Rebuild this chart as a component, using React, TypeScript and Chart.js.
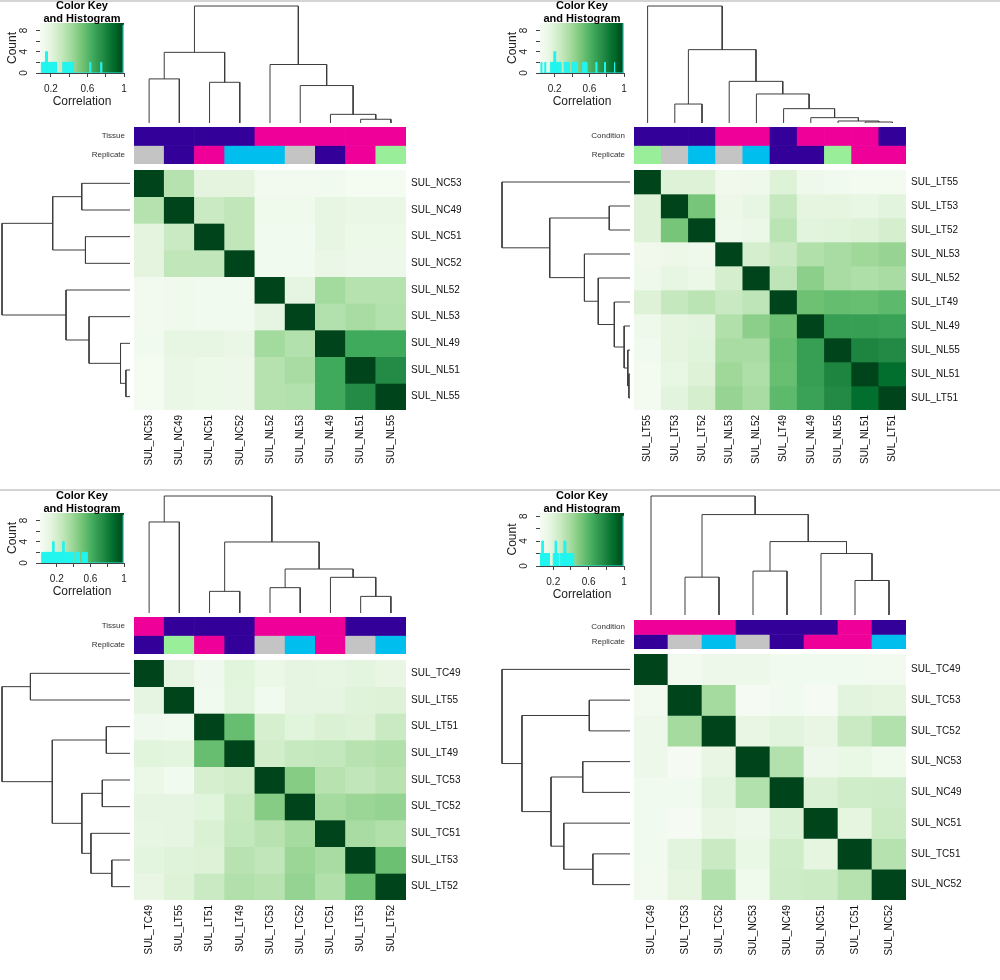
import React, { useEffect, useRef } from "react";
import { Chart, registerables } from "chart.js";
Chart.register(...registerables);

document.body.style.margin = "0";

const FONT = "'Liberation Sans', Arial, Helvetica, sans-serif";
const GREENS = ["#F7FCF5", "#E5F5E0", "#C7E9C0", "#A1D99B", "#74C476", "#41AB5D", "#238B45", "#006D2C", "#00441B"];
const PURPLE = "#330099";
const MAGENTA = "#EE0099";
const SKY = "#00BFEF";
const GRAY = "#C4C4C4";
const LGREEN = "#99EE99";
const HIST_COLOR = "#22F4EE";
const GROUP_COLORS: Record<string, string> = { NC: PURPLE, LT: PURPLE, NL: MAGENTA, TC: MAGENTA };
const REP_COLORS: Record<string, string> = { "49": PURPLE, "51": MAGENTA, "52": SKY, "53": GRAY, "55": LGREEN };

// Color key tick values / labels
const keyXTicks = [0.2, 0.4, 0.6, 0.8, 1.0];
const keyXLabels = ["0.2", "", "0.6", "", "1"];
const keyYTicks = [0, 2, 4, 6, 8];
const keyYLabels = ["0", "", "4", "", "8"];

// ---------------- Panel 1 ----------------
const p1Labels = ["SUL_NC53", "SUL_NC49", "SUL_NC51", "SUL_NC52", "SUL_NL52", "SUL_NL53", "SUL_NL49", "SUL_NL51", "SUL_NL55"];
const p1Group = ["NC", "NC", "NC", "NC", "NL", "NL", "NL", "NL", "NL"];
const p1Replicate = ["53", "49", "51", "52", "52", "53", "49", "51", "55"];
const p1Corr = [
  [1.0, 0.36, 0.2, 0.2, 0.11, 0.11, 0.12, 0.1, 0.1],
  [0.36, 1.0, 0.3, 0.33, 0.13, 0.13, 0.18, 0.16, 0.16],
  [0.2, 0.3, 1.0, 0.33, 0.12, 0.12, 0.18, 0.15, 0.15],
  [0.2, 0.33, 0.33, 1.0, 0.12, 0.12, 0.16, 0.14, 0.14],
  [0.11, 0.13, 0.12, 0.12, 1.0, 0.19, 0.42, 0.36, 0.36],
  [0.11, 0.13, 0.12, 0.12, 0.19, 1.0, 0.37, 0.4, 0.37],
  [0.12, 0.18, 0.18, 0.16, 0.42, 0.37, 1.0, 0.66, 0.66],
  [0.1, 0.16, 0.15, 0.14, 0.36, 0.4, 0.66, 1.0, 0.77],
  [0.1, 0.16, 0.15, 0.14, 0.36, 0.37, 0.66, 0.77, 1.0],
];
// [left, right, height]; negative = leaf (-(index+1)), positive = earlier merge (1-based)
const p1Merge = [
  [-1, -2, 0.377], [-3, -4, 0.348], [1, 2, 0.604], [-8, -9, 0.032],
  [-7, 4, 0.074], [-6, 5, 0.32], [-5, 6, 0.5], [3, 7, 1.0],
];
const p1Hist = [
  [0.095, 0.14, 2], [0.14, 0.16, 4], [0.16, 0.26, 2], [0.33, 0.445, 2],
  [0.625, 0.635, 2], [0.745, 0.755, 2], [0.99, 1.0, 9],
];
const p1Min = 0.08;
const p1CountMax = 9.4;

// ---------------- Panel 2 ----------------
const p2Labels = ["SUL_LT55", "SUL_LT53", "SUL_LT52", "SUL_NL53", "SUL_NL52", "SUL_LT49", "SUL_NL49", "SUL_NL55", "SUL_NL51", "SUL_LT51"];
const p2Group = ["LT", "LT", "LT", "NL", "NL", "LT", "NL", "NL", "NL", "LT"];
const p2Replicate = ["55", "53", "52", "53", "52", "49", "49", "55", "51", "51"];
const p2Corr = [
  [1.0, 0.18, 0.18, 0.08, 0.09, 0.18, 0.09, 0.07, 0.06, 0.06],
  [0.18, 1.0, 0.51, 0.1, 0.14, 0.28, 0.15, 0.15, 0.13, 0.16],
  [0.18, 0.51, 1.0, 0.09, 0.11, 0.31, 0.16, 0.17, 0.18, 0.22],
  [0.08, 0.1, 0.09, 1.0, 0.22, 0.27, 0.34, 0.37, 0.4, 0.42],
  [0.09, 0.14, 0.11, 0.22, 1.0, 0.3, 0.45, 0.37, 0.35, 0.37],
  [0.18, 0.28, 0.31, 0.27, 0.3, 1.0, 0.53, 0.55, 0.54, 0.57],
  [0.09, 0.15, 0.16, 0.34, 0.45, 0.53, 1.0, 0.68, 0.68, 0.67],
  [0.07, 0.15, 0.17, 0.37, 0.37, 0.55, 0.68, 1.0, 0.78, 0.76],
  [0.06, 0.13, 0.18, 0.4, 0.35, 0.54, 0.68, 0.78, 1.0, 0.87],
  [0.06, 0.16, 0.22, 0.42, 0.37, 0.57, 0.67, 0.76, 0.87, 1.0],
];
const p2Merge = [
  [-2, -3, 0.162], [-9, -10, 0.0085], [-8, 2, 0.017], [-7, 3, 0.0456],
  [-6, 4, 0.1225], [-5, 5, 0.248], [-4, 6, 0.356], [1, 7, 0.627], [-1, 8, 1.0],
];
const p2Hist = [
  [0.04, 0.05, 2], [0.085, 0.095, 2], [0.15, 0.19, 2], [0.19, 0.21, 4], [0.21, 0.27, 2],
  [0.31, 0.37, 2], [0.4, 0.46, 2], [0.52, 0.57, 2], [0.675, 0.685, 2], [0.775, 0.785, 2],
  [0.885, 0.895, 2], [0.99, 1.0, 10],
];
const p2Min = 0.03;
const p2CountMax = 9.4;

// ---------------- Panel 3 ----------------
const p3Labels = ["SUL_TC49", "SUL_LT55", "SUL_LT51", "SUL_LT49", "SUL_TC53", "SUL_TC52", "SUL_TC51", "SUL_LT53", "SUL_LT52"];
const p3Group = ["TC", "LT", "LT", "LT", "TC", "TC", "TC", "LT", "LT"];
const p3Replicate = ["49", "55", "51", "49", "53", "52", "51", "53", "52"];
const p3Corr = [
  [1.0, 0.12, 0.05, 0.14, 0.08, 0.12, 0.11, 0.13, 0.1],
  [0.12, 1.0, 0.04, 0.13, 0.04, 0.12, 0.12, 0.15, 0.16],
  [0.05, 0.04, 1.0, 0.53, 0.19, 0.14, 0.17, 0.16, 0.24],
  [0.14, 0.13, 0.53, 1.0, 0.21, 0.25, 0.26, 0.3, 0.32],
  [0.08, 0.04, 0.19, 0.21, 1.0, 0.45, 0.3, 0.27, 0.3],
  [0.12, 0.12, 0.14, 0.25, 0.45, 1.0, 0.36, 0.39, 0.41],
  [0.11, 0.12, 0.17, 0.26, 0.3, 0.36, 1.0, 0.35, 0.32],
  [0.13, 0.15, 0.16, 0.3, 0.27, 0.39, 0.35, 1.0, 0.52],
  [0.1, 0.16, 0.24, 0.32, 0.3, 0.41, 0.32, 0.52, 1.0],
];
const p3Merge = [
  [-1, -2, 0.778], [-3, -4, 0.185], [-5, -6, 0.2165], [-8, -9, 0.142],
  [-7, 4, 0.305], [3, 5, 0.376], [2, 6, 0.607], [1, 7, 1.0],
];
const p3Hist = [
  [0.02, 0.03, 2], [0.04, 0.15, 2], [0.15, 0.165, 4], [0.165, 0.27, 2], [0.27, 0.285, 4],
  [0.285, 0.4, 2], [0.42, 0.47, 2], [0.5, 0.56, 2], [0.99, 1.0, 9],
];
const p3Min = 0.0;
const p3CountMax = 9.4;

// ---------------- Panel 4 ----------------
const p4Labels = ["SUL_TC49", "SUL_TC53", "SUL_TC52", "SUL_NC53", "SUL_NC49", "SUL_NC51", "SUL_TC51", "SUL_NC52"];
const p4Group = ["TC", "TC", "TC", "NC", "NC", "NC", "TC", "NC"];
const p4Replicate = ["49", "53", "52", "53", "49", "51", "51", "52"];
const p4Corr = [
  [1.0, 0.08, 0.11, 0.11, 0.09, 0.09, 0.09, 0.08],
  [0.08, 1.0, 0.39, 0.06, 0.09, 0.06, 0.18, 0.17],
  [0.11, 0.39, 1.0, 0.15, 0.18, 0.15, 0.28, 0.35],
  [0.11, 0.06, 0.15, 1.0, 0.35, 0.11, 0.14, 0.1],
  [0.09, 0.09, 0.18, 0.35, 1.0, 0.21, 0.25, 0.26],
  [0.09, 0.06, 0.15, 0.11, 0.21, 1.0, 0.17, 0.27],
  [0.09, 0.18, 0.28, 0.14, 0.25, 0.17, 1.0, 0.34],
  [0.08, 0.17, 0.35, 0.1, 0.26, 0.27, 0.34, 1.0],
];
const p4Merge = [
  [-2, -3, 0.318], [-4, -5, 0.369], [-7, -8, 0.29], [-6, 3, 0.517],
  [2, 4, 0.617], [1, 5, 0.844], [-1, 6, 1.0],
];
const p4Hist = [
  [0.05, 0.07, 2], [0.07, 0.085, 4], [0.085, 0.155, 2], [0.2, 0.22, 2], [0.22, 0.235, 4],
  [0.235, 0.26, 2], [0.28, 0.32, 2], [0.32, 0.34, 4], [0.34, 0.43, 2], [0.99, 1.0, 8],
];
const p4Min = 0.05;
const p4CountMax = 8.5;

// ---------------- Layout (positions only) ----------------
type Box = { l: number; t: number; r: number; b: number };
type Geo = { px: number; py: number; hm: Box; top: { t: number; b: number }; left: { l: number; r: number }; ann: { t: number; b: number }; key: Box };
const G1: Geo = { px: 0, py: 0, hm: { l: 134, t: 170, r: 406, b: 410 }, top: { t: 6, b: 123 }, left: { l: 2, r: 130 }, ann: { t: 127, b: 164 }, key: { l: 40, t: 23, r: 124, b: 73 } };
const G2: Geo = { px: 500, py: 0, hm: { l: 634, t: 170, r: 906, b: 410 }, top: { t: 6, b: 123 }, left: { l: 502, r: 630 }, ann: { t: 127, b: 164 }, key: { l: 540, t: 23, r: 624, b: 73 } };
const G3: Geo = { px: 0, py: 490, hm: { l: 134, t: 660, r: 406, b: 900 }, top: { t: 496, b: 613 }, left: { l: 2, r: 130 }, ann: { t: 617, b: 654 }, key: { l: 40, t: 513, r: 124, b: 563 } };
const G4: Geo = { px: 500, py: 490, hm: { l: 634, t: 654, r: 906, b: 900 }, top: { t: 496, b: 615 }, left: { l: 502, r: 630 }, ann: { t: 620, b: 649 }, key: { l: 540, t: 513, r: 624, b: 566 } };

const panels = [
  { labels: p1Labels, group: p1Group, rep: p1Replicate, corr: p1Corr, merge: p1Merge, hist: p1Hist, vmin: p1Min, countMax: p1CountMax, annName: "Tissue", geo: G1 },
  { labels: p2Labels, group: p2Group, rep: p2Replicate, corr: p2Corr, merge: p2Merge, hist: p2Hist, vmin: p2Min, countMax: p2CountMax, annName: "Condition", geo: G2 },
  { labels: p3Labels, group: p3Group, rep: p3Replicate, corr: p3Corr, merge: p3Merge, hist: p3Hist, vmin: p3Min, countMax: p3CountMax, annName: "Tissue", geo: G3 },
  { labels: p4Labels, group: p4Group, rep: p4Replicate, corr: p4Corr, merge: p4Merge, hist: p4Hist, vmin: p4Min, countMax: p4CountMax, annName: "Condition", geo: G4 },
];

// ---------------- Helpers ----------------
function hexToRgb(h: string) {
  const n = parseInt(h.slice(1), 16);
  return [(n >> 16) & 255, (n >> 8) & 255, n & 255];
}
const GREENS_RGB = GREENS.map(hexToRgb);
function greenFor(v: number, vmin: number) {
  let t = (v - vmin) / (1 - vmin);
  t = Math.max(0, Math.min(1, t));
  const f = t * 8;
  const i = Math.min(7, Math.floor(f));
  const u = f - i;
  const a = GREENS_RGB[i], b = GREENS_RGB[i + 1];
  const c = a.map((x, k) => Math.round(x + (b[k] - x) * u));
  return `rgb(${c[0]},${c[1]},${c[2]})`;
}

function fixSize(dim: "width" | "height", size: number) {
  return (s: any) => {
    s[dim] = size;
    s.paddingLeft = 0;
    s.paddingRight = 0;
    s.paddingTop = 0;
    s.paddingBottom = 0;
  };
}

const baseOptions = {
  responsive: false,
  maintainAspectRatio: false,
  animation: false as const,
  devicePixelRatio: 1,
  events: [] as any[],
  plugins: { legend: { display: false }, tooltip: { enabled: false }, title: { display: false } },
};

function dendroLinks(merge: number[][]) {
  const pos: number[] = [];
  const hgt: number[] = [];
  const links: number[][][] = [];
  merge.forEach(([a, b, h], k) => {
    const pa = a < 0 ? -a - 1 : pos[a - 1];
    const ha = a < 0 ? 0 : hgt[a - 1];
    const pb = b < 0 ? -b - 1 : pos[b - 1];
    const hb = b < 0 ? 0 : hgt[b - 1];
    links.push([[pa, ha], [pa, h], [pb, h], [pb, hb]]);
    pos[k] = (pa + pb) / 2;
    hgt[k] = h;
  });
  return links;
}

type Spec = { x: number; y: number; w: number; h: number; make: () => any };

function ChartCanvas({ spec }: { spec: Spec }) {
  const ref = useRef<HTMLCanvasElement>(null);
  useEffect(() => {
    const chart = new Chart(ref.current as HTMLCanvasElement, spec.make());
    return () => chart.destroy();
  }, []);
  return (
    <canvas
      ref={ref}
      width={spec.w}
      height={spec.h}
      style={{ position: "absolute", left: spec.x, top: spec.y, width: spec.w, height: spec.h }}
    />
  );
}

function buildSpecs(p: (typeof panels)[number]): Spec[] {
  const g = p.geo;
  const n = p.labels.length;
  const specs: Spec[] = [];
  const hmW = g.hm.r - g.hm.l;
  const hmH = g.hm.b - g.hm.t;

  // Heatmap
  const RIGHT = 90, BOTTOM = 72;
  specs.push({
    x: g.hm.l, y: g.hm.t, w: hmW + RIGHT, h: hmH + BOTTOM,
    make: () => ({
      type: "bar",
      data: {
        labels: p.labels,
        datasets: p.corr.map((row, i) => ({
          label: p.labels[i],
          data: row.map(() => [i, i + 1]),
          backgroundColor: row.map((v) => greenFor(v, p.vmin)),
          borderWidth: 0,
          barPercentage: 1,
          categoryPercentage: 1,
          grouped: false,
        })),
      },
      options: {
        ...baseOptions,
        layout: { padding: 0 },
        scales: {
          x: {
            type: "category",
            position: "bottom",
            grid: { display: false, drawTicks: false },
            border: { display: false },
            ticks: { autoSkip: false, minRotation: 90, maxRotation: 90, padding: 5, color: "#111", font: { family: FONT, size: 10 } },
            afterFit: fixSize("height", BOTTOM),
          },
          y: {
            type: "linear",
            position: "right",
            min: 0,
            max: n,
            reverse: true,
            grid: { display: false, drawTicks: false },
            border: { display: false },
            afterBuildTicks: (s: any) => { s.ticks = p.labels.map((_, i) => ({ value: i + 0.5 })); },
            ticks: { padding: 5, color: "#111", font: { family: FONT, size: 10 }, callback: (_v: any, idx: number) => p.labels[idx] },
            afterFit: fixSize("width", RIGHT),
          },
        },
      },
    }),
  });

  // Dendrograms
  const links = dendroLinks(p.merge);
  const PAD = 2;
  const lineDs = (pts: number[][]) => ({
    data: pts.map(([x, y]) => ({ x, y })),
    showLine: true,
    pointRadius: 0,
    borderColor: "#3c3c3c",
    borderWidth: 1,
    tension: 0,
    clip: false,
    fill: false,
  });
  specs.push({
    x: g.hm.l - PAD, y: g.top.t - PAD, w: hmW + 2 * PAD, h: g.top.b - g.top.t + 2 * PAD,
    make: () => ({
      type: "scatter",
      data: { datasets: links.map((lk) => lineDs(lk)) },
      options: {
        ...baseOptions,
        layout: { padding: PAD },
        scales: {
          x: { type: "linear", display: false, min: -0.5, max: n - 0.5 },
          y: { type: "linear", display: false, min: 0, max: 1 },
        },
      },
    }),
  });
  specs.push({
    x: g.left.l - PAD, y: g.hm.t - PAD, w: g.left.r - g.left.l + 2 * PAD, h: hmH + 2 * PAD,
    make: () => ({
      type: "scatter",
      data: { datasets: links.map((lk) => lineDs(lk.map(([a, b]) => [b, a]))) },
      options: {
        ...baseOptions,
        layout: { padding: PAD },
        scales: {
          x: { type: "linear", display: false, min: 0, max: 1, reverse: true },
          y: { type: "linear", display: false, min: -0.5, max: n - 0.5, reverse: true },
        },
      },
    }),
  });

  // Annotation bars
  const ANN_LEFT = 70;
  const annNames = [p.annName, "Replicate"];
  specs.push({
    x: g.hm.l - ANN_LEFT, y: g.ann.t, w: hmW + ANN_LEFT, h: g.ann.b - g.ann.t,
    make: () => ({
      type: "bar",
      data: {
        labels: p.labels,
        datasets: [
          { label: p.annName, data: p.group.map(() => [0, 1]), backgroundColor: p.group.map((c) => GROUP_COLORS[c]), borderWidth: 0, barPercentage: 1, categoryPercentage: 1, grouped: false },
          { label: "Replicate", data: p.rep.map(() => [1, 2]), backgroundColor: p.rep.map((c) => REP_COLORS[c]), borderWidth: 0, barPercentage: 1, categoryPercentage: 1, grouped: false },
        ],
      },
      options: {
        ...baseOptions,
        layout: { padding: 0 },
        scales: {
          x: { type: "category", display: false },
          y: {
            type: "linear",
            position: "left",
            min: 0,
            max: 2,
            reverse: true,
            grid: { display: false, drawTicks: false },
            border: { display: false },
            afterBuildTicks: (s: any) => { s.ticks = annNames.map((_, i) => ({ value: i + 0.5 })); },
            ticks: { padding: 9, color: "#333", font: { family: FONT, size: 8 }, callback: (_v: any, idx: number) => annNames[idx] },
            afterFit: fixSize("width", ANN_LEFT),
          },
        },
      },
    }),
  });

  // Color key + histogram
  const KEY_RIGHT = 10, KEY_BOTTOM = 37;
  const kLeft = g.key.l - g.px;
  const kTop = g.key.t - g.py;
  const histPts: number[][] = [];
  p.hist.forEach(([lo, hi, c]) => {
    histPts.push([lo, 0], [lo, c], [hi, c], [hi, 0]);
  });
  specs.push({
    x: g.px, y: g.py, w: g.key.r - g.px + KEY_RIGHT, h: g.key.b - g.py + KEY_BOTTOM,
    make: () => ({
      type: "scatter",
      data: {
        datasets: [
          {
            data: histPts.map(([x, y]) => ({ x, y })),
            showLine: true,
            pointRadius: 0,
            borderColor: HIST_COLOR,
            backgroundColor: HIST_COLOR,
            borderWidth: 1,
            fill: "origin",
            tension: 0,
          },
        ],
      },
      options: {
        ...baseOptions,
        layout: { padding: { top: kTop, right: KEY_RIGHT, left: 0, bottom: 0 } },
        scales: {
          x: {
            type: "linear",
            position: "bottom",
            min: p.vmin,
            max: 1,
            grid: { display: true, drawOnChartArea: false, drawTicks: true, tickLength: 4, color: "#444" },
            border: { display: true, color: "#444" },
            afterBuildTicks: (s: any) => { s.ticks = keyXTicks.map((v) => ({ value: v })); },
            ticks: { autoSkip: false, maxRotation: 0, padding: 6, color: "#222", font: { family: FONT, size: 10 }, callback: (_v: any, idx: number) => keyXLabels[idx] },
            title: { display: true, text: "Correlation", color: "#222", font: { family: FONT, size: 12 }, padding: { top: 0, bottom: 1 } },
            afterFit: fixSize("height", KEY_BOTTOM),
          },
          y: {
            type: "linear",
            position: "left",
            min: 0,
            max: p.countMax,
            grid: { display: true, drawOnChartArea: false, drawTicks: true, tickLength: 4, color: "#444" },
            border: { display: true, color: "#444" },
            afterBuildTicks: (s: any) => { s.ticks = keyYTicks.map((v) => ({ value: v })); },
            ticks: { autoSkip: false, minRotation: 90, maxRotation: 90, crossAlign: "center", padding: 9, color: "#222", font: { family: FONT, size: 10 }, callback: (_v: any, idx: number) => keyYLabels[idx] },
            title: { display: true, text: "Count", color: "#222", font: { family: FONT, size: 12 }, padding: { top: 5, bottom: 0 } },
            afterFit: fixSize("width", kLeft),
          },
        },
      },
      plugins: [
        {
          id: "keyGradient",
          beforeDatasetsDraw(chart: any) {
            const { ctx, chartArea: a, scales } = chart;
            const x0 = scales.x.getPixelForValue(p.vmin);
            const x1 = scales.x.getPixelForValue(1);
            const grad = ctx.createLinearGradient(x0, 0, x1, 0);
            GREENS.forEach((c, i) => grad.addColorStop(i / (GREENS.length - 1), c));
            ctx.save();
            ctx.fillStyle = grad;
            ctx.fillRect(a.left, a.top, a.right - a.left, a.bottom - a.top);
            ctx.restore();
          },
        },
        {
          id: "keyTitle",
          afterDraw(chart: any) {
            const { ctx, chartArea: a } = chart;
            const cx = (a.left + a.right) / 2;
            ctx.save();
            ctx.fillStyle = "#000";
            ctx.font = `bold 11px ${FONT}`;
            ctx.textAlign = "center";
            ctx.textBaseline = "middle";
            ctx.fillText("Color Key", cx, a.top - 17);
            ctx.fillText("and Histogram", cx, a.top - 4);
            ctx.restore();
          },
        },
      ],
    }),
  });

  return specs;
}

export default function App() {
  const all = panels.flatMap((p) => buildSpecs(p));
  return (
    <div style={{ position: "relative", width: 1000, height: 980, background: "#fff", overflow: "hidden" }}>
      <div style={{ position: "absolute", left: 0, top: 0, width: 1000, height: 2, background: "#d4d4d4" }} />
      <div style={{ position: "absolute", left: 0, top: 489, width: 1000, height: 2, background: "#d4d4d4" }} />
      {all.map((s, i) => (
        <ChartCanvas key={i} spec={s} />
      ))}
    </div>
  );
}
